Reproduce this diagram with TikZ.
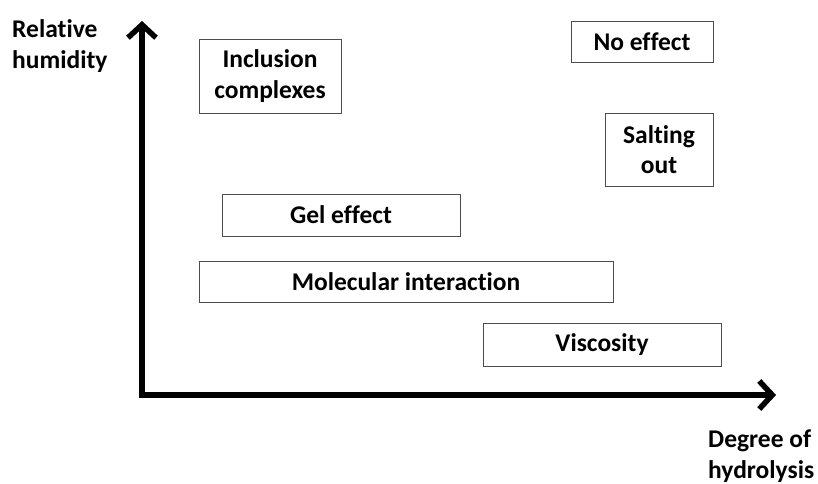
\documentclass[tikz,border=0pt]{standalone}
\usepackage{fontspec}
\setmainfont{Carlito}[Ligatures={NoCommon}]
\usetikzlibrary{arrows.meta,positioning}

\tikzset{
  region/.style={draw=black!70, line width=0.9pt, align=center, inner sep=0pt},
  axis/.style={line width=5.5pt, line join=miter},
  axlabel/.style={align=left, inner sep=0pt}
}

\begin{document}
\begin{tikzpicture}[x=1pt, y=-1pt, font=\fontsize{25.5}{30.5}\selectfont\bfseries]
    \useasboundingbox (0,0) rectangle (818,483);

    % axes
    \coordinate (o) at (142,395);
    \coordinate (ytip) at (142,21);
    \coordinate (xtip) at (776,395);
    \draw[axis, {Straight Barb[length=13pt,width=28pt]}-{Straight Barb[length=13pt,width=28pt]}] (ytip) -- (o) -- (xtip);

    \node[axlabel, anchor=west] (rh) at (12,46) {Relative\\humidity};
    \node[axlabel, anchor=west] (dh) at (708,456) {Degree of\\hydrolysis};

    % regions
    \node[region, minimum width=142pt, minimum height=74pt] (incl) at (270,76) {Inclusion\\complexes};
    \node[region, minimum width=142pt, minimum height=41pt] (noeff) at (642,41.5) {No effect};
    \node[region, minimum width=108pt, minimum height=73pt] (salt) at (659,149.5) {Salting\\out};
    \node[region, minimum width=238pt, minimum height=42pt] (gel) at (341,215) {Gel effect};
    \node[region, minimum width=414pt, minimum height=41pt] (mol) at (406,281.5) {Molecular interaction};
    \node[region, minimum width=238pt, minimum height=43pt] (visc) at (602,344.5) {Viscosity};
\end{tikzpicture}
\end{document}
